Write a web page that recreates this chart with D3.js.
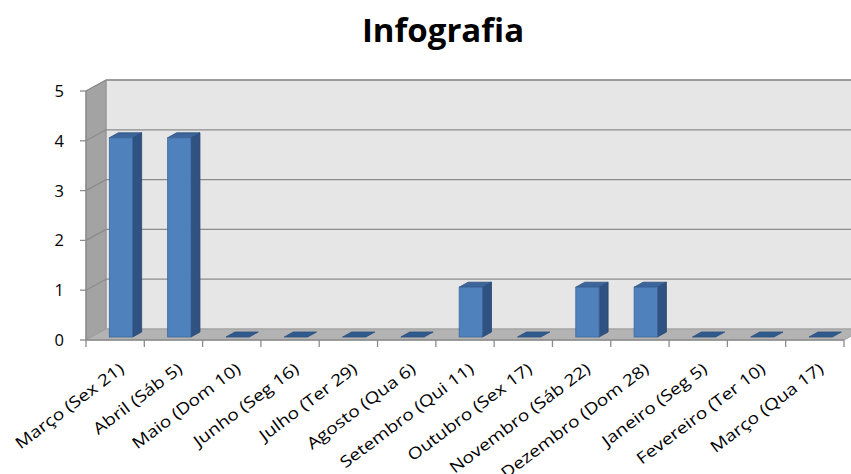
<!DOCTYPE html>
<html>
<head>
<meta charset="utf-8">
<script src="https://cdn.jsdelivr.net/npm/d3@7"></script>
<style>
  body { margin: 0; background: #ffffff; }
  svg { display: block; }
</style>
</head>
<body>
<svg id="chart" width="851" height="474"></svg>
<script>
const categories = ["Março (Sex 21)", "Abril (Sáb 5)", "Maio (Dom 10)", "Junho (Seg 16)", "Julho (Ter 29)", "Agosto (Qua 6)", "Setembro (Qui 11)", "Outubro (Sex 17)", "Novembro (Sáb 22)", "Dezembro (Dom 28)", "Janeiro (Seg 5)", "Fevereiro (Ter 10)", "Março (Qua 17)"];
const values = [4, 4, 0, 0, 0, 0, 1, 0, 1, 1, 0, 0, 0];
const yTicks = [0, 1, 2, 3, 4, 5];
const title = "Infografia";

(function () {
const svg = d3.select("#chart");
const pLeft = 86, pRight = 844, pBottom = 340, pTop = 91;
const DX = 20, DY = -11;      // wall depth
const BDX = 9, BDY = -5;      // bar depth
const BFY = -3;               // bar front shift (sits slightly back on floor)

const x = d3.scaleBand().domain(categories).range([pLeft, pRight]).padding(0);
const y = d3.scaleLinear().domain([0, 5]).range([pBottom, pTop]);
const bw = x.bandwidth();

const poly = pts => pts.map(p => p.join(",")).join(" ");

// Back wall
svg.append("polygon")
  .attr("points", poly([[pLeft + DX, y(5) + DY], [pRight + DX, y(5) + DY], [pRight + DX, y(0) + DY], [pLeft + DX, y(0) + DY]]))
  .attr("fill", "#e6e6e6").attr("stroke", "#a6a6a6").attr("stroke-width", 1);

// Left side wall
svg.append("polygon")
  .attr("points", poly([[pLeft, y(0)], [pLeft, y(5)], [pLeft + DX, y(5) + DY], [pLeft + DX, y(0) + DY]]))
  .attr("fill", "#a3a3a3").attr("stroke", "#8f8f8f").attr("stroke-width", 1);

// Floor
svg.append("polygon")
  .attr("points", poly([[pLeft, y(0)], [pRight, y(0)], [pRight + DX, y(0) + DY], [pLeft + DX, y(0) + DY]]))
  .attr("fill", "#b3b3b3").attr("stroke", "#a0a0a0").attr("stroke-width", 1);

// Gridlines (back wall + side wall)
const grid = svg.append("g");
yTicks.filter(t => t > 0).forEach(t => {
  grid.append("line")
    .attr("x1", pLeft + DX).attr("x2", pRight + DX)
    .attr("y1", y(t) + DY).attr("y2", y(t) + DY)
    .attr("stroke", "#8c8c8c").attr("stroke-width", 1.3);
  grid.append("line")
    .attr("x1", pLeft).attr("x2", pLeft + DX)
    .attr("y1", y(t)).attr("y2", y(t) + DY)
    .attr("stroke", "#8c8c8c").attr("stroke-width", 1.3);
});

// Bars
const bars = svg.append("g");
categories.forEach((c, i) => {
  const v = values[i];
  const x0 = x(c) + bw * 0.4;
  const w = bw * 0.4;
  const yb = y(0) + BFY;
  const yt = y(v) + BFY;
  const g = bars.append("g");
  if (v > 0) {
    g.append("polygon")
      .attr("points", poly([[x0 + w, yb], [x0 + w, yt], [x0 + w + BDX, yt + BDY], [x0 + w + BDX, yb + BDY]]))
      .attr("fill", "#2f5282").attr("stroke", "#27466f").attr("stroke-width", 0.8);
  }
  g.append("polygon")
    .attr("points", poly([[x0, yt], [x0 + w, yt], [x0 + w + BDX, yt + BDY], [x0 + BDX, yt + BDY]]))
    .attr("fill", v > 0 ? "#3b659b" : "#2f5a8e").attr("stroke", "#2c4f7c").attr("stroke-width", 0.8);
  if (v > 0) {
    g.append("rect")
      .attr("x", x0).attr("y", yt).attr("width", w).attr("height", yb - yt)
      .attr("fill", "#4f81bd").attr("stroke", "#3c679b").attr("stroke-width", 0.8);
  }
});

// Y axis
const yAxis = svg.append("g");
yAxis.append("line").attr("x1", pLeft).attr("x2", pLeft).attr("y1", y(5)).attr("y2", y(0) + 0.5)
  .attr("stroke", "#8c8c8c").attr("stroke-width", 1.3);
yTicks.forEach(t => {
  yAxis.append("line").attr("x1", pLeft - 6).attr("x2", pLeft).attr("y1", y(t)).attr("y2", y(t))
    .attr("stroke", "#8c8c8c").attr("stroke-width", 1.3);
  yAxis.append("text").attr("x", pLeft - 22).attr("y", y(t)).attr("dy", "0.36em")
    .attr("text-anchor", "end")
    .attr("font-family", "Open Sans, sans-serif").attr("font-size", 16.5).attr("fill", "#000")
    .text(t);
});

// X axis
const xAxis = svg.append("g");
xAxis.append("line").attr("x1", pLeft).attr("x2", pRight).attr("y1", y(0)).attr("y2", y(0))
  .attr("stroke", "#8c8c8c").attr("stroke-width", 1.3);
x.domain().concat([null]).forEach(c => {
  const xp = c === null ? pRight : x(c);
  xAxis.append("line").attr("x1", xp).attr("x2", xp).attr("y1", y(0)).attr("y2", y(0) + 7)
    .attr("stroke", "#8c8c8c").attr("stroke-width", 1.3);
});
categories.forEach(c => {
  const ax = x(c) + bw / 2 + 10;
  const ay = y(0) + 31;
  xAxis.append("text")
    .attr("transform", `translate(${ax},${ay}) rotate(-37) scale(1.2,1)`)
    .attr("text-anchor", "end")
    .attr("font-family", "Open Sans, sans-serif").attr("font-size", 16).attr("fill", "#000")
    .text(c);
});

// Title
svg.append("text")
  .attr("x", 443).attr("y", 42)
  .attr("text-anchor", "middle")
  .attr("font-family", "Open Sans, sans-serif").attr("font-weight", "bold").attr("font-size", 33)
  .attr("fill", "#000")
  .text(title);
})();
</script>
</body>
</html>
